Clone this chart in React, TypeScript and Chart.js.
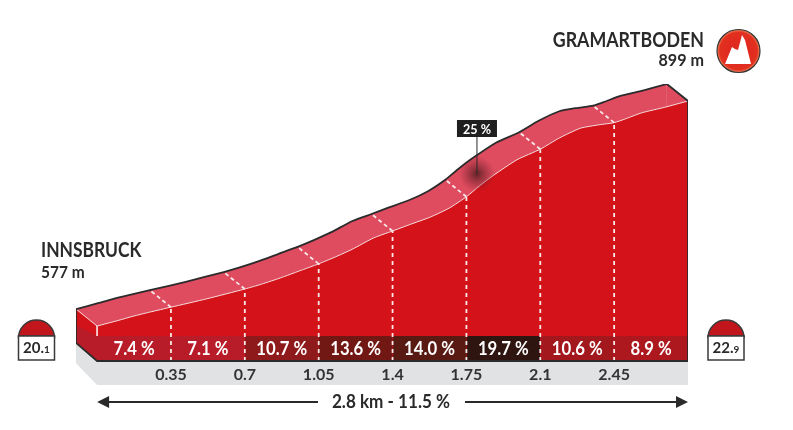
import React, { useEffect, useRef } from "react";
import { Chart, registerables } from "chart.js";
Chart.register(...registerables);

const kmProfile = [0, 0.1, 0.17, 0.25, 0.35, 0.52, 0.7, 0.78, 0.87, 0.96, 1.05, 1.13, 1.21, 1.31, 1.4, 1.48, 1.58, 1.67, 1.75, 1.81, 1.88, 1.99, 2.1, 2.19, 2.29, 2.38, 2.45, 2.5, 2.58, 2.69, 2.8];
const elevation = [577, 585, 591, 597, 604, 616, 630, 637, 646, 656, 666, 676, 687, 703, 713, 722, 733, 746, 762, 777, 793, 815, 830, 846, 860, 865, 868, 873, 882, 890, 899];
const kmTicks = [0.35, 0.7, 1.05, 1.4, 1.75, 2.1, 2.45];
const segmentEdges = [0, 0.35, 0.7, 1.05, 1.4, 1.75, 2.1, 2.45, 2.8];
const gradients = [7.4, 7.1, 10.7, 13.6, 14.0, 19.7, 10.6, 8.9];
const gradientColors = ["#b81c28", "#b81c28", "#8f1a1c", "#721814", "#5a1a14", "#2f1510", "#a3181c", "#ac181d"];

const FONT = 'Lato, "Noto Sans", sans-serif';
const BASE = 527, BAND_TOP = 562.8, FLOOR = 492.66, DX = 0.1, DY = 24.3;
const RED = "#d4121a", PINK = "#df4c60", GREY = "#e1e2e4", INK = "#2a2a2a";
const SMOOTH = 0.2;

const front = kmProfile.map((x, i) => ({ x, y: elevation[i] }));
const back = front.map((p) => ({ x: p.x - DX, y: p.y + DY }));
const last = front.length - 1;

function shape(data: any[], color: string, order: number) {
  return { data, fill: "shape", backgroundColor: color, borderWidth: 0, pointRadius: 0, order, tension: 0 };
}
function stroke(data: any[], color: string, width: number, order: number, dash: number[] = [], tension = 0) {
  return { data, fill: false, borderColor: color, borderWidth: width, borderDash: dash, pointRadius: 0, order, tension };
}

const labelsPlugin = {
  id: "labels",
  afterDatasetsDraw(chart: any) {
    const { ctx, scales } = chart;
    const { x, y } = scales;
    // narrowed text: the reference face is more condensed than the installed fonts
    const text = (s: string, px: number, py: number, font: string, sx: number, align: string) => {
      ctx.save();
      ctx.translate(px, py);
      ctx.scale(sx, 1);
      ctx.font = font;
      ctx.textAlign = align;
      ctx.fillText(s, 0, 0);
      ctx.restore();
    };
    ctx.save();
    ctx.textBaseline = "middle";
    ctx.fillStyle = "#fff";
    gradients.forEach((g, i) => {
      const cx = (x.getPixelForValue(segmentEdges[i]) + x.getPixelForValue(segmentEdges[i + 1])) / 2;
      text(`${g.toFixed(1)} %`, cx, y.getPixelForValue((BASE + BAND_TOP) / 2) + 0.5, `bold 18px ${FONT}`, 0.93, "center");
    });
    // 25 % callout
    const sx = x.getPixelForValue(1.8);
    const sy = 174;
    const glow = ctx.createRadialGradient(sx, sy, 1, sx, sy, 18);
    glow.addColorStop(0, "rgba(70,25,25,0.75)");
    glow.addColorStop(1, "rgba(120,30,40,0)");
    ctx.fillStyle = glow;
    ctx.beginPath();
    ctx.arc(sx, sy, 18, 0, Math.PI * 2);
    ctx.fill();
    ctx.strokeStyle = INK;
    ctx.lineWidth = 1;
    ctx.beginPath();
    ctx.moveTo(sx, 136);
    ctx.lineTo(sx, sy);
    ctx.stroke();
    ctx.fillStyle = "#1f1f1f";
    ctx.fillRect(sx - 20, 120, 40, 17);
    ctx.fillStyle = "#fff";
    text("25 %", sx, 129, `bold 14px ${FONT}`, 0.9, "center");
    // place names
    ctx.fillStyle = INK;
    text("INNSBRUCK", 41, 251, `bold 20px ${FONT}`, 0.87, "left");
    text("577 m", 41, 273, `bold 17px ${FONT}`, 0.91, "left");
    text("GRAMARTBODEN", 704, 41, `bold 20px ${FONT}`, 0.89, "right");
    text("899 m", 704, 61, `bold 17px ${FONT}`, 0.95, "right");
    // length arrow
    text("2.8 km - 11.5 %", 391, 402, `bold 19px ${FONT}`, 0.9, "center");
    const ax0 = x.getPixelForValue(0), ax1 = x.getPixelForValue(2.8);
    ctx.strokeStyle = INK;
    ctx.lineWidth = 2;
    ctx.beginPath();
    ctx.moveTo(ax0 + 8, 402); ctx.lineTo(318, 402);
    ctx.moveTo(465, 402); ctx.lineTo(ax1 - 8, 402);
    ctx.stroke();
    ctx.fillStyle = INK;
    ctx.beginPath();
    ctx.moveTo(ax0, 402); ctx.lineTo(ax0 + 12, 396); ctx.lineTo(ax0 + 12, 408); ctx.closePath();
    ctx.moveTo(ax1, 402); ctx.lineTo(ax1 - 12, 396); ctx.lineTo(ax1 - 12, 408); ctx.closePath();
    ctx.fill();
    // km stones
    const stone = (cx: number, big: string, small: string) => {
      ctx.fillStyle = "#c2161d";
      ctx.strokeStyle = "#3a3a3a";
      ctx.lineWidth = 1.5;
      ctx.beginPath();
      ctx.moveTo(cx - 18, 336);
      ctx.arc(cx, 338, 18, Math.PI, 0);
      ctx.lineTo(cx + 18, 336);
      ctx.closePath();
      ctx.fill();
      ctx.stroke();
      ctx.fillStyle = "#fff";
      ctx.fillRect(cx - 18, 336, 36, 24);
      ctx.strokeRect(cx - 18, 336, 36, 24);
      ctx.fillStyle = INK;
      ctx.font = `bold 15px ${FONT}`;
      const w1 = ctx.measureText(big).width;
      ctx.font = `bold 10px ${FONT}`;
      const w2 = ctx.measureText(small).width;
      const left = cx - (w1 + w2) / 2;
      ctx.textAlign = "left";
      ctx.font = `bold 15px ${FONT}`;
      ctx.fillText(big, left, 348);
      ctx.font = `bold 10px ${FONT}`;
      ctx.fillText(small, left + w1, 350);
    };
    stone(36.5, "20.", "1");
    stone(726, "22.", "9");
    // summit icon
    const mx = 738.5, my = 51;
    const disc = ctx.createRadialGradient(mx, my, 10, mx, my, 21);
    disc.addColorStop(0, "#e0291f");
    disc.addColorStop(0.8, "#e2301f");
    disc.addColorStop(1, "#ee7b55");
    ctx.fillStyle = disc;
    ctx.strokeStyle = "#333";
    ctx.lineWidth = 1.2;
    ctx.beginPath();
    ctx.arc(mx, my, 21.5, 0, Math.PI * 2);
    ctx.fill();
    ctx.stroke();
    ctx.fillStyle = "#fff";
    ctx.beginPath();
    ctx.moveTo(725, 64);
    ctx.lineTo(732, 47);
    ctx.lineTo(735, 49);
    ctx.lineTo(738, 50);
    ctx.lineTo(742, 35);
    ctx.lineTo(745, 40);
    ctx.lineTo(751, 64);
    ctx.closePath();
    ctx.fill();
    ctx.restore();
  },
};

export default function App() {
  const ref = useRef<HTMLCanvasElement | null>(null);
  useEffect(() => {
    const elevAt = (km: number) => elevation[kmProfile.indexOf(km)];
    const datasets: any[] = [
      // road surface: everything under the back ridge, later covered by the faces
      { data: back, fill: { value: BASE }, backgroundColor: PINK, borderWidth: 0, pointRadius: 0, order: 20, tension: SMOOTH },
      shape([back[last], front[last], { x: 2.8, y: BASE }, { x: back[last].x, y: BASE }], PINK, 19),
      // grey base
      shape(
        [{ x: -DX, y: 553 }, { x: 0, y: BASE }, { x: 2.8, y: BASE }, { x: 2.8, y: FLOOR }, { x: 0, y: FLOOR }, { x: -DX, y: 523.7 }],
        GREY, 18
      ),
      // front face
      { data: front, fill: { value: BASE }, backgroundColor: RED, borderWidth: 0, pointRadius: 0, order: 17, tension: SMOOTH },
      // left side faces
      shape([back[0], front[0], { x: 0, y: BASE }, { x: -DX, y: 553 }], RED, 16),
      shape([{ x: -DX, y: 578.5 }, { x: 0, y: BAND_TOP }, { x: 0, y: BASE }, { x: -DX, y: 553 }], "#b81c28", 15),
      // gradient bands
      ...gradients.map((_, i) => ({
        data: [{ x: segmentEdges[i], y: BAND_TOP }, { x: segmentEdges[i + 1], y: BAND_TOP }],
        fill: { value: BASE },
        backgroundColor: gradientColors[i],
        borderWidth: 0,
        pointRadius: 0,
        order: 14,
      })),
      // kilometre dashes
      ...kmTicks.flatMap((km) => [
        stroke([{ x: km, y: BASE }, { x: km, y: elevAt(km) }], "#f8e8e8", 1.8, 10, [4, 4]),
        stroke([{ x: km, y: elevAt(km) }, { x: km - DX, y: elevAt(km) + DY }], "#f8e8e8", 1.8, 10, [4, 3]),
      ]),
      // white crease
      stroke(front, "#f7dfe0", 1, 9, [], SMOOTH),
      stroke([back[0], front[0], { x: 0, y: BAND_TOP }], "#f7dfe0", 1, 9),
      // dark outline
      stroke(back, "#2b2b2b", 1.8, 5, [], SMOOTH),
      stroke([back[last], front[last], { x: 2.8, y: BASE }, { x: 0, y: BASE }, { x: -DX, y: 553 }, back[0]], "#2b2b2b", 1.8, 5),
    ];
    const chart = new Chart(ref.current as HTMLCanvasElement, {
      type: "line",
      data: { datasets },
      options: {
        animation: false,
        responsive: false,
        layout: { padding: { left: 76, right: 105, top: 84, bottom: 45 } },
        plugins: { legend: { display: false }, tooltip: { enabled: false } },
        scales: {
          x: {
            type: "linear",
            min: -DX,
            max: 2.8,
            position: { y: BASE } as any,
            grid: { display: false, drawTicks: false },
            border: { display: false },
            afterBuildTicks: (axis: any) => {
              axis.ticks = kmTicks.map((value) => ({ value }));
            },
            ticks: {
              z: 1,
              padding: 4,
              autoSkip: false,
              maxRotation: 0,
              color: "#333",
              font: { family: FONT, size: 16, weight: "bold" },
              callback: (v: any) => String(v),
            },
          },
          y: { type: "linear", min: FLOOR, max: BASE + 396.3, display: false },
        },
      },
      plugins: [labelsPlugin],
    } as any);
    return () => chart.destroy();
  }, []);
  return (
    <canvas
      ref={ref}
      width={793}
      height={430}
      style={{ position: "absolute", left: 0, top: 0, width: 793, height: 430, background: "#fff" }}
    />
  );
}
